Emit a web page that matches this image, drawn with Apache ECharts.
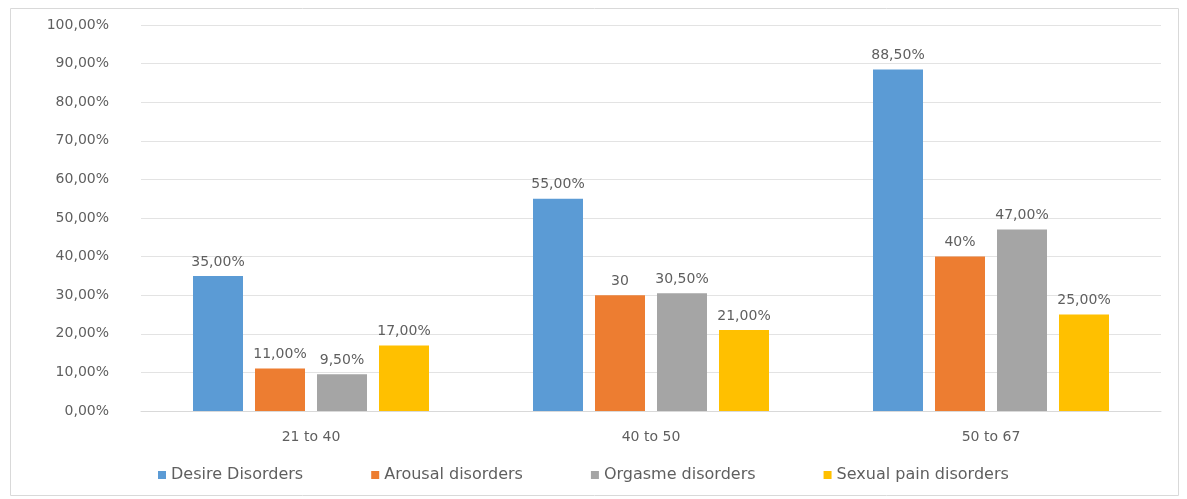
<!DOCTYPE html>
<html>
<head>
<meta charset="utf-8">
<script src="https://cdn.jsdelivr.net/npm/echarts@6/dist/echarts.min.js"></script>
<style>html,body{margin:0;padding:0;background:#fff}#c{width:1187px;height:499px}</style>
</head>
<body>
<div id="c"></div>
<script>
const categories = ['21 to 40', '40 to 50', '50 to 67'];
const seriesNames = ['Desire Disorders', 'Arousal disorders', 'Orgasme disorders', 'Sexual pain disorders'];
const desire = [35.0, 55.0, 88.5];
const arousal = [11.0, 30.0, 40.0];
const orgasme = [9.5, 30.5, 47.0];
const sexualPain = [17.0, 21.0, 25.0];
const desireLabels = ['35,00%', '55,00%', '88,50%'];
const arousalLabels = ['11,00%', '30', '40%'];
const orgasmeLabels = ['9,50%', '30,50%', '47,00%'];
const sexualPainLabels = ['17,00%', '21,00%', '25,00%'];
const yMin = 0, yMax = 100, yStep = 10;

const colors = ['#5B9BD5', '#ED7D31', '#A5A5A5', '#FFC000'];
const values = [desire, arousal, orgasme, sexualPain];
const labels = [desireLabels, arousalLabels, orgasmeLabels, sexualPainLabels];
const font = 'DejaVu Sans';

const chart = echarts.init(document.getElementById('c'));
chart.setOption({
  animation: false,
  graphic: [{
    type: 'rect', shape: {x: 10.5, y: 8.5, width: 1168, height: 487},
    style: {fill: 'none', stroke: '#d9d9d9', lineWidth: 1}, silent: true
  }],
  grid: {left: 141, right: 26, top: 25, bottom: 88},
  legend: {
    bottom: 11, left: 153, itemWidth: 8, itemHeight: 8, itemGap: 68,
    icon: 'rect',
    textStyle: {fontFamily: font, fontSize: 16, color: '#5f5f5f'},
    data: seriesNames
  },
  xAxis: {
    type: 'category', data: categories,
    axisLine: {lineStyle: {color: '#d9d9d9'}},
    axisTick: {show: false},
    axisLabel: {fontFamily: font, fontSize: 14, color: '#5f5f5f', margin: 19}
  },
  yAxis: {
    type: 'value', min: yMin, max: yMax, interval: yStep,
    axisLine: {show: false}, axisTick: {show: false},
    splitLine: {lineStyle: {color: '#e3e3e3'}},
    axisLabel: {fontFamily: font, fontSize: 14, color: '#5f5f5f', margin: 32,
      formatter: v => v.toFixed(2).replace('.', ',') + '%'}
  },
  series: seriesNames.map((name, i) => ({
    name, type: 'bar', data: values[i], barWidth: 50, barGap: '24%',
    itemStyle: {color: colors[i]},
    label: {show: true, position: 'top', distance: 7, fontFamily: font, fontSize: 14, color: '#5f5f5f',
      formatter: p => labels[i][p.dataIndex]}
  }))
});
</script>
</body>
</html>
